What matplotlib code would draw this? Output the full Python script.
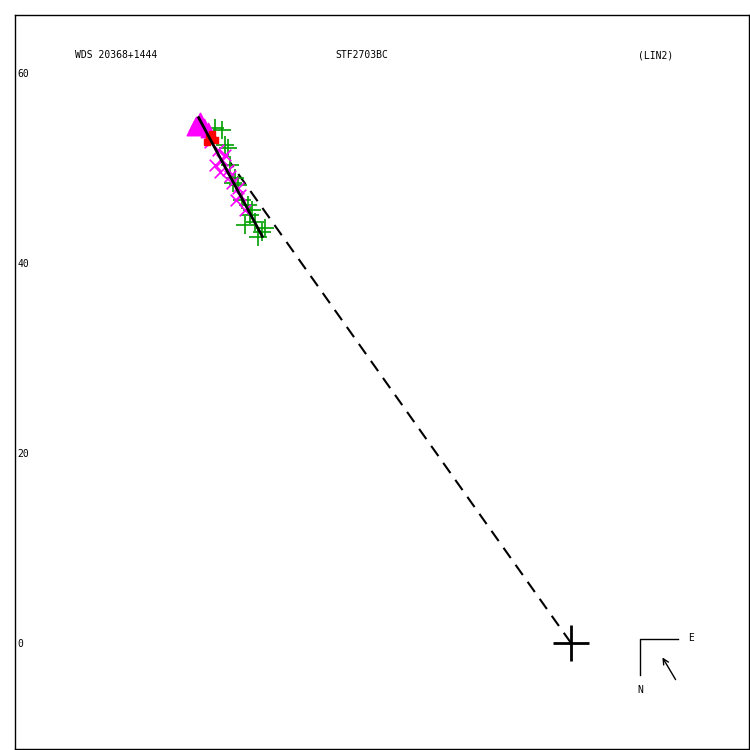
import numpy as np
import matplotlib
matplotlib.use("Agg")
import matplotlib.pyplot as plt

# measurements (arcsec), x = relative offset, y = relative offset
tri_x = [-39.5, -39.1, -38.6, -39.7, -38.2, -38.9]
tri_y = [54.6, 55.1, 54.4, 54.2, 54.0, 54.3]

red_x = [-38.1, -37.8, -38.3, -37.5]
red_y = [53.3, 53.6, 52.7, 52.9]

xm_x = [-38.0, -37.2, -36.7, -37.5, -36.1, -35.7, -35.1, -34.8, -34.3, -35.3, -36.4, -36.9, -35.9]
xm_y = [52.7, 51.9, 50.8, 50.3, 49.8, 48.4, 47.9, 47.2, 45.6, 46.6, 51.4, 49.6, 49.2]

pl_x = [-37.5, -36.4, -36.7, -35.9, -35.1, -34.6, -35.4, -34.0, -33.8, -34.3, -33.3, -32.5, -32.9, -36.1, -35.6, -33.6, -32.2]
pl_y = [54.2, 52.4, 54.0, 50.3, 48.2, 46.6, 48.9, 46.1, 45.1, 44.0, 44.3, 43.3, 42.7, 52.1, 48.4, 45.6, 43.7]

fit_x = [-39.2, -32.5]
fit_y = [55.3, 42.8]

dash_x = [0, -35.9]
dash_y = [0, 50.6]

yticks = [0, 20, 40, 60]

fig = plt.figure(figsize=(7.5, 7.5), dpi=100)
ax = fig.add_axes([0.02, 0.0013, 0.9787, 0.9787])

ax.plot(dash_x, dash_y, color="black", lw=1.5, ls=(0, (6, 4)))
ax.scatter(pl_x, pl_y, marker="+", s=150, color="#00a000", lw=1.2, zorder=3)
ax.scatter(xm_x, xm_y, marker="x", s=70, color="magenta", lw=1.2, zorder=3)
ax.scatter(tri_x, tri_y, marker="^", s=110, color="magenta", zorder=3)
ax.scatter(red_x, red_y, marker="s", s=25, color="red", zorder=3)
ax.plot(fit_x, fit_y, color="black", lw=2, zorder=4)
ax.plot([0], [0], marker="+", ms=26, mew=2, color="black")

ax.set_xlim(-58.53, 18.74)
ax.set_ylim(-11.16, 66.1)
ax.set_xticks([])
ax.set_yticks(yticks)
ax.set_yticklabels([str(t) for t in yticks], ha="left", family="DejaVu Sans Mono", fontsize=7)
ax.tick_params(axis="y", length=0, pad=-2)

for s in ax.spines.values():
    s.set_linewidth(1)

tkw = dict(transform=ax.transAxes, family="DejaVu Sans Mono", fontsize=7, va="center")
ax.text((75 - 15) / 734, 1 - (55 - 15) / 734, "WDS 20368+1444", **tkw)
ax.text((335 - 15) / 734, 1 - (55 - 15) / 734, "STF2703BC", **tkw)
ax.text((638 - 15) / 734, 1 - (55 - 15) / 734, "(LIN2)", **tkw)

# compass
def ax_xy(px, py):
    return ((px - 15) / 734, 1 - (py - 15) / 734)

ax.plot(*zip(ax_xy(640, 675), ax_xy(640, 639), ax_xy(678, 639)), color="black", lw=1, transform=ax.transAxes)
ax.annotate("", xy=ax_xy(661, 655), xytext=ax_xy(677, 682), xycoords="axes fraction",
            arrowprops=dict(arrowstyle="->", lw=1, color="black"))
ax.text(*ax_xy(688, 638), "E", **tkw)
ax.text(*ax_xy(637, 690), "N", **tkw)

fig.savefig("out.png", dpi=100)
